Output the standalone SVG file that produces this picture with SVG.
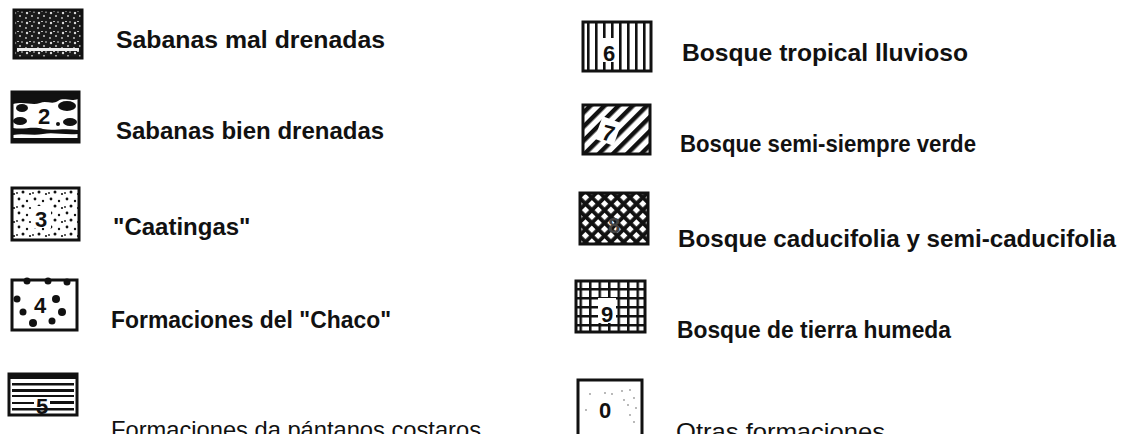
<svg xmlns="http://www.w3.org/2000/svg" width="1136" height="434" viewBox="0 0 1136 434">
<style>
.lbl{font-family:"Liberation Sans",Arial,sans-serif;font-weight:bold;font-size:24px;fill:#111}
.num{font-family:"Liberation Sans",Arial,sans-serif;font-weight:bold;font-size:22px;fill:#111;text-anchor:middle}
.box{fill:none;stroke:#111;stroke-width:3}
</style>
<defs>
<pattern id="pVert" width="8" height="10" patternUnits="userSpaceOnUse">
<rect x="3" y="0" width="2.6" height="10" fill="#111"/>
</pattern>
<pattern id="pDiag" width="10" height="10" patternUnits="userSpaceOnUse" patternTransform="rotate(45)">
<rect x="0" y="0" width="4.5" height="10" fill="#111"/>
</pattern>
<pattern id="pCross" width="9" height="9" patternUnits="userSpaceOnUse" patternTransform="rotate(45)">
<rect width="9" height="9" fill="#111"/>
<rect x="2" y="2" width="5.2" height="5.2" fill="#fff"/>
</pattern>
<pattern id="pGrid" width="9.5" height="9" patternUnits="userSpaceOnUse">
<rect width="9.5" height="9" fill="#111"/>
<rect x="2.5" y="2.5" width="7" height="6.5" fill="#fff"/>
</pattern>
<pattern id="pStip" width="16" height="14" patternUnits="userSpaceOnUse">
<circle cx="3" cy="3" r="1.4" fill="#111"/>
<circle cx="11" cy="5" r="1.2" fill="#111"/>
<circle cx="7" cy="10" r="1.5" fill="#111"/>
<circle cx="14" cy="12" r="1.1" fill="#111"/>
<circle cx="1" cy="11" r="0.9" fill="#111"/>
</pattern>
<pattern id="pSpeck" width="12" height="10" patternUnits="userSpaceOnUse">
<rect width="12" height="10" fill="#1a1a1a"/>
<circle cx="3" cy="3" r="1.2" fill="#ddd"/>
<circle cx="8" cy="6" r="1" fill="#ccc"/>
<rect x="5" y="1" width="2" height="1" fill="#bbb"/>
<circle cx="10" cy="2" r="0.8" fill="#eee"/>
<circle cx="2" cy="8" r="0.9" fill="#ccc"/>
</pattern>
</defs>

<g id="n1">
<rect x="14" y="10" width="68" height="48" fill="url(#pSpeck)"/>
<rect x="17" y="48" width="62" height="3" fill="#eee"/>
<rect x="14" y="10" width="68" height="48" class="box"/>
<text class="lbl" x="116" y="48" textLength="269" lengthAdjust="spacingAndGlyphs">Sabanas mal drenadas</text>
</g>

<g id="n2">
<rect x="12" y="92" width="67" height="50" fill="#fff"/>
<path d="M13 93h65v6c-8 3-14-2-20 2c-6 4-12-1-18 2c-8 3-15-2-27 1z" fill="#111"/>
<ellipse cx="22" cy="108" rx="6" ry="4" fill="#111"/>
<ellipse cx="67" cy="106" rx="9" ry="5" fill="#111"/>
<ellipse cx="20" cy="121" rx="7" ry="4" fill="#111"/>
<ellipse cx="70" cy="122" rx="7" ry="4" fill="#111"/>
<path d="M13 128c10 2 20-2 30 1c10 2 20-1 35 1v4c-15 1-25-2-35 0c-10 2-20-1-30 1z" fill="#111"/>
<path d="M13 138h65v3h-65z" fill="#111"/>
<circle cx="58" cy="124" r="2" fill="#111"/>
<rect x="12" y="92" width="67" height="50" class="box"/>
<text class="num" x="44" y="124">2</text>
<text class="lbl" x="116" y="139">Sabanas bien drenadas</text>
</g>

<g id="n3">
<rect x="12" y="188" width="67" height="52" fill="url(#pStip)"/>
<rect x="32" y="206" width="19" height="22" fill="#fff"/>
<rect x="12" y="188" width="67" height="52" class="box"/>
<text class="num" x="41" y="227">3</text>
<text class="lbl" x="113" y="235">"Caatingas"</text>
</g>

<g id="n4">
<rect x="12" y="280" width="65" height="50" fill="#fff"/>
<g fill="#111">
<circle cx="27" cy="281" r="3.5"/><circle cx="48" cy="281" r="3.5"/><circle cx="67" cy="282" r="3.5"/>
<circle cx="17" cy="299" r="3.5"/><circle cx="56" cy="299" r="4"/>
<circle cx="23" cy="312" r="3.5"/><circle cx="62" cy="312" r="4"/>
<circle cx="33" cy="323" r="4"/><circle cx="52" cy="321" r="3.5"/>
</g>
<rect x="12" y="280" width="65" height="50" class="box"/>
<text class="num" x="40" y="313">4</text>
<text class="lbl" x="111" y="328" textLength="280" lengthAdjust="spacingAndGlyphs">Formaciones del "Chaco"</text>
</g>

<g id="n5">
<rect x="9" y="374" width="68" height="41" fill="#fff"/>
<g fill="#111">
<rect x="9" y="374" width="68" height="5"/>
<rect x="12" y="383" width="62" height="2.5"/>
<rect x="12" y="389" width="62" height="3"/>
<rect x="12" y="395" width="62" height="2"/>
<rect x="12" y="402" width="22" height="2"/>
<rect x="50" y="401" width="24" height="3"/>
<rect x="12" y="408" width="62" height="2.5"/>
</g>
<rect x="9" y="374" width="68" height="41" class="box"/>
<text class="num" x="42" y="414">5</text>
<text class="lbl" x="111" y="438" textLength="370" lengthAdjust="spacingAndGlyphs" style="font-weight:normal">Formaciones da pántanos costaros</text>
</g>

<g id="n6">
<rect x="583" y="22" width="68" height="49" fill="url(#pVert)"/>
<rect x="601" y="38" width="17" height="24" fill="#fff"/>
<rect x="583" y="22" width="68" height="49" class="box"/>
<text class="num" x="609" y="61">6</text>
<text class="lbl" x="682" y="61" textLength="286" lengthAdjust="spacingAndGlyphs">Bosque tropical lluvioso</text>
</g>

<g id="n7">
<rect x="583" y="105" width="67" height="49" fill="url(#pDiag)"/>
<rect x="598" y="119" width="20" height="24" fill="#fff" transform="rotate(20 608 131)"/>
<rect x="583" y="105" width="67" height="49" class="box"/>
<text class="num" x="609" y="141" transform="rotate(15 609 131)">7</text>
<text class="lbl" x="680" y="152" textLength="296" lengthAdjust="spacingAndGlyphs">Bosque semi-siempre verde</text>
</g>

<g id="n8">
<rect x="580" y="193" width="68" height="51" fill="url(#pCross)"/>
<rect x="580" y="193" width="68" height="51" class="box"/>
<text class="num" x="614" y="233" style="fill:#444">8</text>
<text class="lbl" x="678" y="247" textLength="438" lengthAdjust="spacingAndGlyphs">Bosque caducifolia y semi-caducifolia</text>
</g>

<g id="n9">
<rect x="576" y="281" width="69" height="51" fill="url(#pGrid)"/>
<rect x="598" y="298" width="18" height="25" fill="#fff"/>
<rect x="576" y="281" width="69" height="51" class="box"/>
<text class="num" x="607" y="322">9</text>
<text class="lbl" x="677" y="338" textLength="274" lengthAdjust="spacingAndGlyphs">Bosque de tierra humeda</text>
</g>

<g id="n10">
<g fill="#999">
<circle cx="590" cy="394" r="0.9"/><circle cx="605" cy="393" r="0.9"/><circle cx="612" cy="394" r="0.9"/>
<circle cx="622" cy="391" r="0.9"/><circle cx="630" cy="390" r="0.9"/><circle cx="634" cy="398" r="0.9"/>
<circle cx="628" cy="405" r="0.9"/><circle cx="636" cy="408" r="0.9"/><circle cx="630" cy="415" r="0.9"/>
<circle cx="586" cy="410" r="0.9"/><circle cx="624" cy="400" r="0.9"/><circle cx="634" cy="422" r="0.9"/>
</g>
<path d="M578 434V380h64v54" class="box"/>
<text class="num" x="605" y="418">0</text>
<text class="lbl" x="676" y="440" textLength="209" lengthAdjust="spacingAndGlyphs" style="font-weight:normal">Otras formaciones</text>
</g>
</svg>
